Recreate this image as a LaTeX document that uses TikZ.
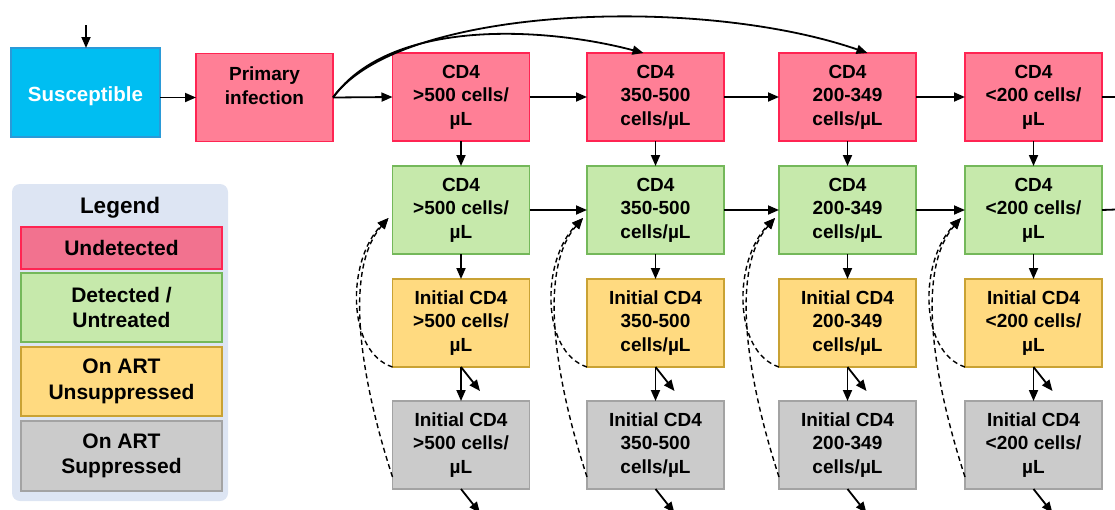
\documentclass[tikz,border=0pt]{standalone}
\usepackage{fontspec}
\setmainfont{Liberation Sans}
\usetikzlibrary{positioning,calc,arrows.meta}
\definecolor{suscfill}{HTML}{00BEF2}
\definecolor{suscline}{HTML}{2A9AD8}
\definecolor{undetfill}{HTML}{FF7F96}
\definecolor{undetline}{HTML}{FF2452}
\definecolor{legundet}{HTML}{F2728F}
\definecolor{detfill}{HTML}{C6E9AB}
\definecolor{detline}{HTML}{74B85A}
\definecolor{artfill}{HTML}{FFDA80}
\definecolor{artline}{HTML}{C9A234}
\definecolor{supfill}{HTML}{CBCBCB}
\definecolor{supline}{HTML}{A3A3A3}
\definecolor{legbg}{HTML}{DDE5F3}
\tikzset{
	box/.style={draw, line width=1.5pt, minimum width=137pt, minimum height=88pt,
		inner sep=0pt, outer sep=0pt, align=center,
		font=\bfseries\fontsize{19}{23.5}\selectfont},
	undet/.style={box, draw=undetline, fill=undetfill},
	detect/.style={box, draw=detline, fill=detfill},
	artun/.style={box, draw=artline, fill=artfill},
	artsup/.style={box, draw=supline, fill=supfill},
	legitem/.style={draw, line width=1.5pt, minimum width=201pt, minimum height=42pt,
		inner sep=0pt, outer sep=0pt, align=center,
		font=\bfseries\fontsize{21}{25.5}\selectfont},
	flow/.style={-{Triangle[length=11pt,width=9pt]}, line width=1.8pt},
	back/.style={flow, line width=1.4pt, dash pattern=on 5pt off 3.5pt},
}

\begin{document}
\begin{tikzpicture}[x=1pt,y=-1pt]
	\useasboundingbox (0,0) rectangle (1115,509);

	\node[box, draw=suscline, fill=suscfill, text=white, minimum width=149pt,
		minimum height=89pt, text height=22pt, text depth=4pt,
		font=\bfseries\fontsize{20.5}{24}\selectfont] (susc) at (85.5,92.5) {Susceptible};
	\node[undet] (prim) at (264.5,97.5) {Primary\\infection\\\mbox{}};
	\coordinate (inflow) at (86,25);

	% undetected row
	\node[undet] (r1) at (461,97) {CD4\\>500 cells/\\µL};
	\node[undet] (r2) at (655.5,97) {CD4\\350-500\\cells/µL};
	\node[undet] (r3) at (847.5,97) {CD4\\200-349\\cells/µL};
	\node[undet] (r4) at (1033.5,97) {CD4\\<200 cells/\\µL};

	\node[detect, below=25pt of r1] (d1) {CD4\\>500 cells/\\µL};
	\node[detect, below=25pt of r2] (d2) {CD4\\350-500\\cells/µL};
	\node[detect, below=25pt of r3] (d3) {CD4\\200-349\\cells/µL};
	\node[detect, below=25pt of r4] (d4) {CD4\\<200 cells/\\µL};

	\node[artun, below=25pt of d1] (t1) {Initial CD4\\>500 cells/\\µL};
	\node[artun, below=25pt of d2] (t2) {Initial CD4\\350-500\\cells/µL};
	\node[artun, below=25pt of d3] (t3) {Initial CD4\\200-349\\cells/µL};
	\node[artun, below=25pt of d4] (t4) {Initial CD4\\<200 cells/\\µL};

	\node[artsup, below=34pt of t1] (s1) {Initial CD4\\>500 cells/\\µL};
	\node[artsup, below=34pt of t2] (s2) {Initial CD4\\350-500\\cells/µL};
	\node[artsup, below=34pt of t3] (s3) {Initial CD4\\200-349\\cells/µL};
	\node[artsup, below=34pt of t4] (s4) {Initial CD4\\<200 cells/\\µL};

	\coordinate (rout) at (1116,97);
	\coordinate (dout) at (1116,209.5);

	% legend
	\fill[legbg, rounded corners=8pt] (12,184) rectangle (228,501);
	\node[font=\bfseries\fontsize{22.5}{27}\selectfont] (leg) at (120,208) {Legend};
	\node[legitem, draw=undetline, fill=legundet] (l1) at (121.5,248) {Undetected};
	\node[legitem, draw=detline, fill=detfill, minimum height=69pt, below=4pt of l1] (l2) {Detected /\\Untreated};
	\node[legitem, draw=artline, fill=artfill, minimum height=69pt, below=5pt of l2] (l3) {On ART\\Unsuppressed};
	\node[legitem, draw=supline, fill=supfill, minimum height=70pt, below=5pt of l3] (l4) {On ART\\Suppressed};

	\draw[flow] (inflow) -- (susc.north -| inflow);
	\draw[flow] (susc.east |- prim) -- (prim.west);
	\draw[flow] (prim.east) -- (r1.west);
	\draw[flow] (r1) -- (r2);
	\draw[flow] (r2) -- (r3);
	\draw[flow] (r3) -- (r4);
	\draw[line width=1.8pt] (r4.east) -- (rout);
	\draw[flow] (d1) -- (d2);
	\draw[flow] (d2) -- (d3);
	\draw[flow] (d3) -- (d4);
	\draw[line width=1.8pt] (d4.east) -- (dout);

	\draw[flow] (prim.east) .. controls ($(prim.east)+(58,-80)$) and ($(r2.north)+(-110,-26)$) .. ($(r2.north)+(-12,0)$);
	\draw[flow] (prim.east) .. controls ($(prim.east)+(67,-92)$) and ($(r3.north)+(-148,-58)$) .. ($(r3.north)+(20,0)$);

	\foreach \c in {1,2,3,4} {
		\draw[flow] (r\c) -- (d\c);
		\draw[flow] (d\c) -- (t\c);
		\draw[flow] (t\c) -- (s\c);
		\coordinate (tx\c) at ($(t\c.south)+(19,24)$);
		\coordinate (sx\c) at ($(s\c.south)+(19,24)$);
		\draw[flow] (t\c.south) -- (tx\c);
		\draw[flow] (s\c.south) -- (sx\c);
		\draw[back] (t\c.south west) .. controls ($(t\c.south west)+(-46,-15)$) and ($(d\c.west)+(-46,51)$) .. ($(d\c.west)+(-4,8)$);
		\draw[back] ($(s\c.south west)+(0,-12)$) .. controls ($(s\c.south west)+(-31,-107)$) and ($(d\c.west)+(-50,61)$) .. ($(d\c.west)+(-4,8)$);
	}
\end{tikzpicture}
\end{document}
